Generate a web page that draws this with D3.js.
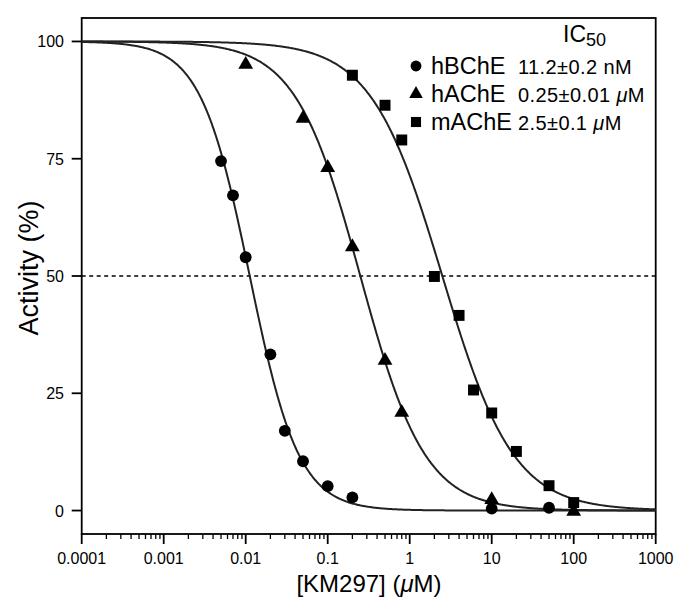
<!DOCTYPE html>
<html><head><meta charset="utf-8">
<script src="https://cdn.jsdelivr.net/npm/d3@7"></script>
<style>body{margin:0;background:#fff;} text{font-family:"Liberation Sans",Arial,Helvetica,sans-serif;fill:#000;}</style>
</head><body>
<svg id="c" width="677" height="603"></svg>
<script>
// ---- data ----
const xTickValues = [0.0001, 0.001, 0.01, 0.1, 1, 10, 100, 1000];
const xTickLabels = ["0.0001", "0.001", "0.01", "0.1", "1", "10", "100", "1000"];
const yTickValues = [0, 25, 50, 75, 100];
const seriesNames = ["hBChE", "hAChE", "mAChE"];
const ic50Labels = ["11.2\u00b10.2 nM", "0.25\u00b10.01 ", "2.5\u00b10.1 "];
const ic50Units = ["", "\u03bcM", "\u03bcM"];
const hBChE_x = [0.005, 0.007, 0.01, 0.02, 0.03, 0.05, 0.1, 0.2, 10, 50];
const hBChE_y = [74.5, 67.2, 54, 33.3, 17, 10.5, 5.2, 2.8, 0.4, 0.6];
const hAChE_x = [0.01, 0.05, 0.1, 0.2, 0.5, 0.8, 10, 100];
const hAChE_y = [95.1, 83.6, 73.1, 56.2, 32, 20.9, 2.3, -0.2];
const mAChE_x = [0.2, 0.5, 0.8, 2, 4, 6, 10, 20, 50, 100];
const mAChE_y = [92.8, 86.4, 79, 49.9, 41.6, 25.7, 20.8, 12.6, 5.3, 1.7];
const fitIC50 = [0.0112, 0.25, 2.5];
const fitHill = [1.45, 1.1, 1.0];

// ---- layout ----
const svg = d3.select("#c");
const L = 81.7, R = 655.7, T = 18, B = 534;
const x = d3.scaleLog().domain([0.0001, 1000]).range([L, R]);
const y = d3.scaleLinear().domain([-5, 105]).range([B, T]);

// frame
svg.append("rect").attr("x", L).attr("y", T).attr("width", R - L).attr("height", B - T)
  .attr("fill", "none").attr("stroke", "#000").attr("stroke-width", 1.8);

// x axis ticks
const minor = [];
for (let e = -4; e < 3; e++) for (let k = 2; k <= 9; k++) minor.push(k * Math.pow(10, e));
svg.append("g").selectAll("line").data(minor).join("line")
  .attr("x1", d => x(d)).attr("x2", d => x(d)).attr("y1", B).attr("y2", B + 5)
  .attr("stroke", "#000").attr("stroke-width", 1.3);
svg.append("g").selectAll("line").data(xTickValues).join("line")
  .attr("x1", d => x(d)).attr("x2", d => x(d)).attr("y1", B).attr("y2", B + 10)
  .attr("stroke", "#000").attr("stroke-width", 1.8);
svg.append("g").selectAll("text").data(xTickValues).join("text")
  .attr("x", d => x(d)).attr("y", 564).attr("text-anchor", "middle")
  .attr("font-size", 16).text((d, i) => xTickLabels[i]);

// y axis ticks
svg.append("g").selectAll("line").data(yTickValues).join("line")
  .attr("x1", L - 10).attr("x2", L).attr("y1", d => y(d)).attr("y2", d => y(d))
  .attr("stroke", "#000").attr("stroke-width", 1.8);
svg.append("g").selectAll("text").data(yTickValues).join("text")
  .attr("x", 64).attr("y", d => y(d) + 6).attr("text-anchor", "end")
  .attr("font-size", 16).text(d => d);

// axis titles
svg.append("text").attr("transform", "translate(38,268) rotate(-90)")
  .attr("text-anchor", "middle").attr("font-size", 27).text("Activity (%)");
const xt = svg.append("text").attr("x", 369).attr("y", 592).attr("text-anchor", "middle").attr("font-size", 24);
xt.append("tspan").text("[KM297] (");
xt.append("tspan").attr("font-style", "italic").text("\u03bc");
xt.append("tspan").text("M)");

// dashed 50% line
svg.append("line").attr("x1", L).attr("x2", R).attr("y1", y(50)).attr("y2", y(50))
  .attr("stroke", "#000").attr("stroke-width", 1.6).attr("stroke-dasharray", "4,3.5");

// fitted curves
const grid = d3.range(0, 701).map(i => Math.pow(10, -4 + i * 0.01));
const line = d3.line().x(d => x(d[0])).y(d => y(d[1]));
fitIC50.forEach((ic, i) => {
  const pts = grid.map(v => [v, 100 / (1 + Math.pow(v / ic, fitHill[i]))]);
  svg.append("path").attr("d", line(pts)).attr("fill", "none").attr("stroke", "#222").attr("stroke-width", 2);
});

// markers
const sym = [d3.symbolCircle, d3.symbolTriangle, d3.symbolSquare];
const symSize = [110, 95, 120];
const sets = [[hBChE_x, hBChE_y], [hAChE_x, hAChE_y], [mAChE_x, mAChE_y]];
sets.forEach((s, i) => {
  svg.append("g").selectAll("path").data(s[0]).join("path")
    .attr("d", d3.symbol().type(sym[i]).size(symSize[i]))
    .attr("transform", (d, j) => "translate(" + x(d) + "," + y(s[1][j]) + ")")
    .attr("fill", "#000");
});

// legend
const ic = svg.append("text").attr("x", 563).attr("y", 42).attr("font-size", 23);
ic.append("tspan").text("IC");
ic.append("tspan").attr("font-size", 18).attr("dy", 4).text("50");
const legY = [66, 94, 122];
seriesNames.forEach((n, i) => {
  svg.append("path").attr("d", d3.symbol().type(sym[i]).size(symSize[i] * 0.85)())
    .attr("transform", "translate(416," + legY[i] + ")").attr("fill", "#000");
  svg.append("text").attr("x", 431).attr("y", legY[i] + 8).attr("font-size", 23.5).text(n);
  const t = svg.append("text").attr("x", 518).attr("y", legY[i] + 7.5).attr("font-size", 20)
    .attr("letter-spacing", 0.4);
  t.append("tspan").text(ic50Labels[i]);
  if (ic50Units[i]) {
    t.append("tspan").attr("font-style", "italic").text("\u03bc");
    t.append("tspan").text("M");
  }
});
</script>
</body></html>
